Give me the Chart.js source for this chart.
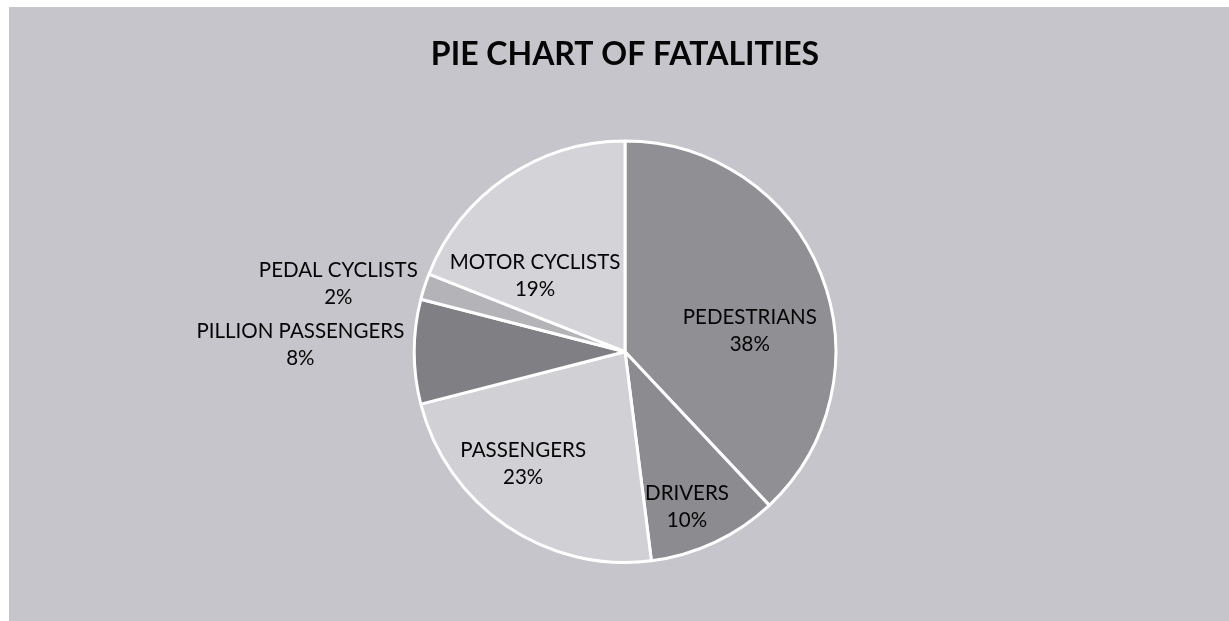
<!DOCTYPE html>
<html>
<head>
<meta charset="utf-8">
<title>Pie chart of fatalities</title>
<script src="https://cdn.jsdelivr.net/npm/chart.js@4/dist/chart.umd.min.js"></script>
<style>
  html, body { margin: 0; padding: 0; background: #ffffff; overflow: hidden; }
  #paper { position: absolute; left: 9px; top: 7px; width: 1220px; height: 614px; background: #c5c5cb; }
  #wrap { position: absolute; left: 0; top: 0; width: 1229px; height: 621px; }
</style>
</head>
<body>
<div id="paper"></div>
<div id="wrap"><canvas id="fatalityChart"></canvas></div>
<script>
// Data (clockwise from 12 o'clock)
const categories = ['PEDESTRIANS', 'DRIVERS', 'PASSENGERS', 'PILLION PASSENGERS', 'PEDAL CYCLISTS', 'MOTOR CYCLISTS'];
const shares = [38, 10, 23, 8, 2, 19];
const sliceColors = ['#8f8f94', '#8b8b90', '#d0d0d5', '#7f7f84', '#b3b3b8', '#d3d3d8'];

// where each label sits, as multiples of the pie radius from its centre
const labelSpots = [[0.592, -0.10], [0.294, 0.735], [-0.483, 0.531], [-1.54, -0.033], [-1.36, -0.325], [-0.427, -0.36]];

// Draw category + percent text next to each slice
const sliceLabels = {
    id: 'sliceLabels',
    afterDatasetsDraw(chart) {
        const ctx = chart.ctx;
        const meta = chart.getDatasetMeta(0);
        ctx.save();
        ctx.font = '20.5px Lato, "Open Sans", sans-serif';
        ctx.fillStyle = '#050505';
        ctx.textAlign = 'center';
        ctx.textBaseline = 'middle';
        meta.data.forEach((arc, i) => {
            const r = arc.outerRadius;
            const x = arc.x + labelSpots[i][0] * r;
            const y = arc.y + labelSpots[i][1] * r;
            ctx.fillText(categories[i], x, y - 13);
            ctx.fillText(shares[i] + '%', x, y + 14);
        });
        ctx.restore();
    }
};

const ctx = document.getElementById('fatalityChart').getContext('2d');
new Chart(ctx, {
    type: 'pie',
    data: {
        labels: categories,
        datasets: [{
            data: shares,
            backgroundColor: sliceColors,
            borderColor: '#ffffff',
            borderWidth: 3
        }]
    },
    options: {
        responsive: true,
        maintainAspectRatio: false,
        animation: false,
        layout: {
            padding: { top: 0, bottom: 57, left: 21, right: 0 }
        },
        plugins: {
            legend: { display: false },
            tooltip: { enabled: false },
            title: {
                display: true,
                text: 'PIE CHART OF FATALITIES',
                color: '#050505',
                font: { family: 'Lato, "Open Sans", sans-serif', size: 32, weight: 'bold' },
                padding: { top: 35, bottom: 66 }
            }
        }
    },
    plugins: [sliceLabels]
});
</script>
</body>
</html>
